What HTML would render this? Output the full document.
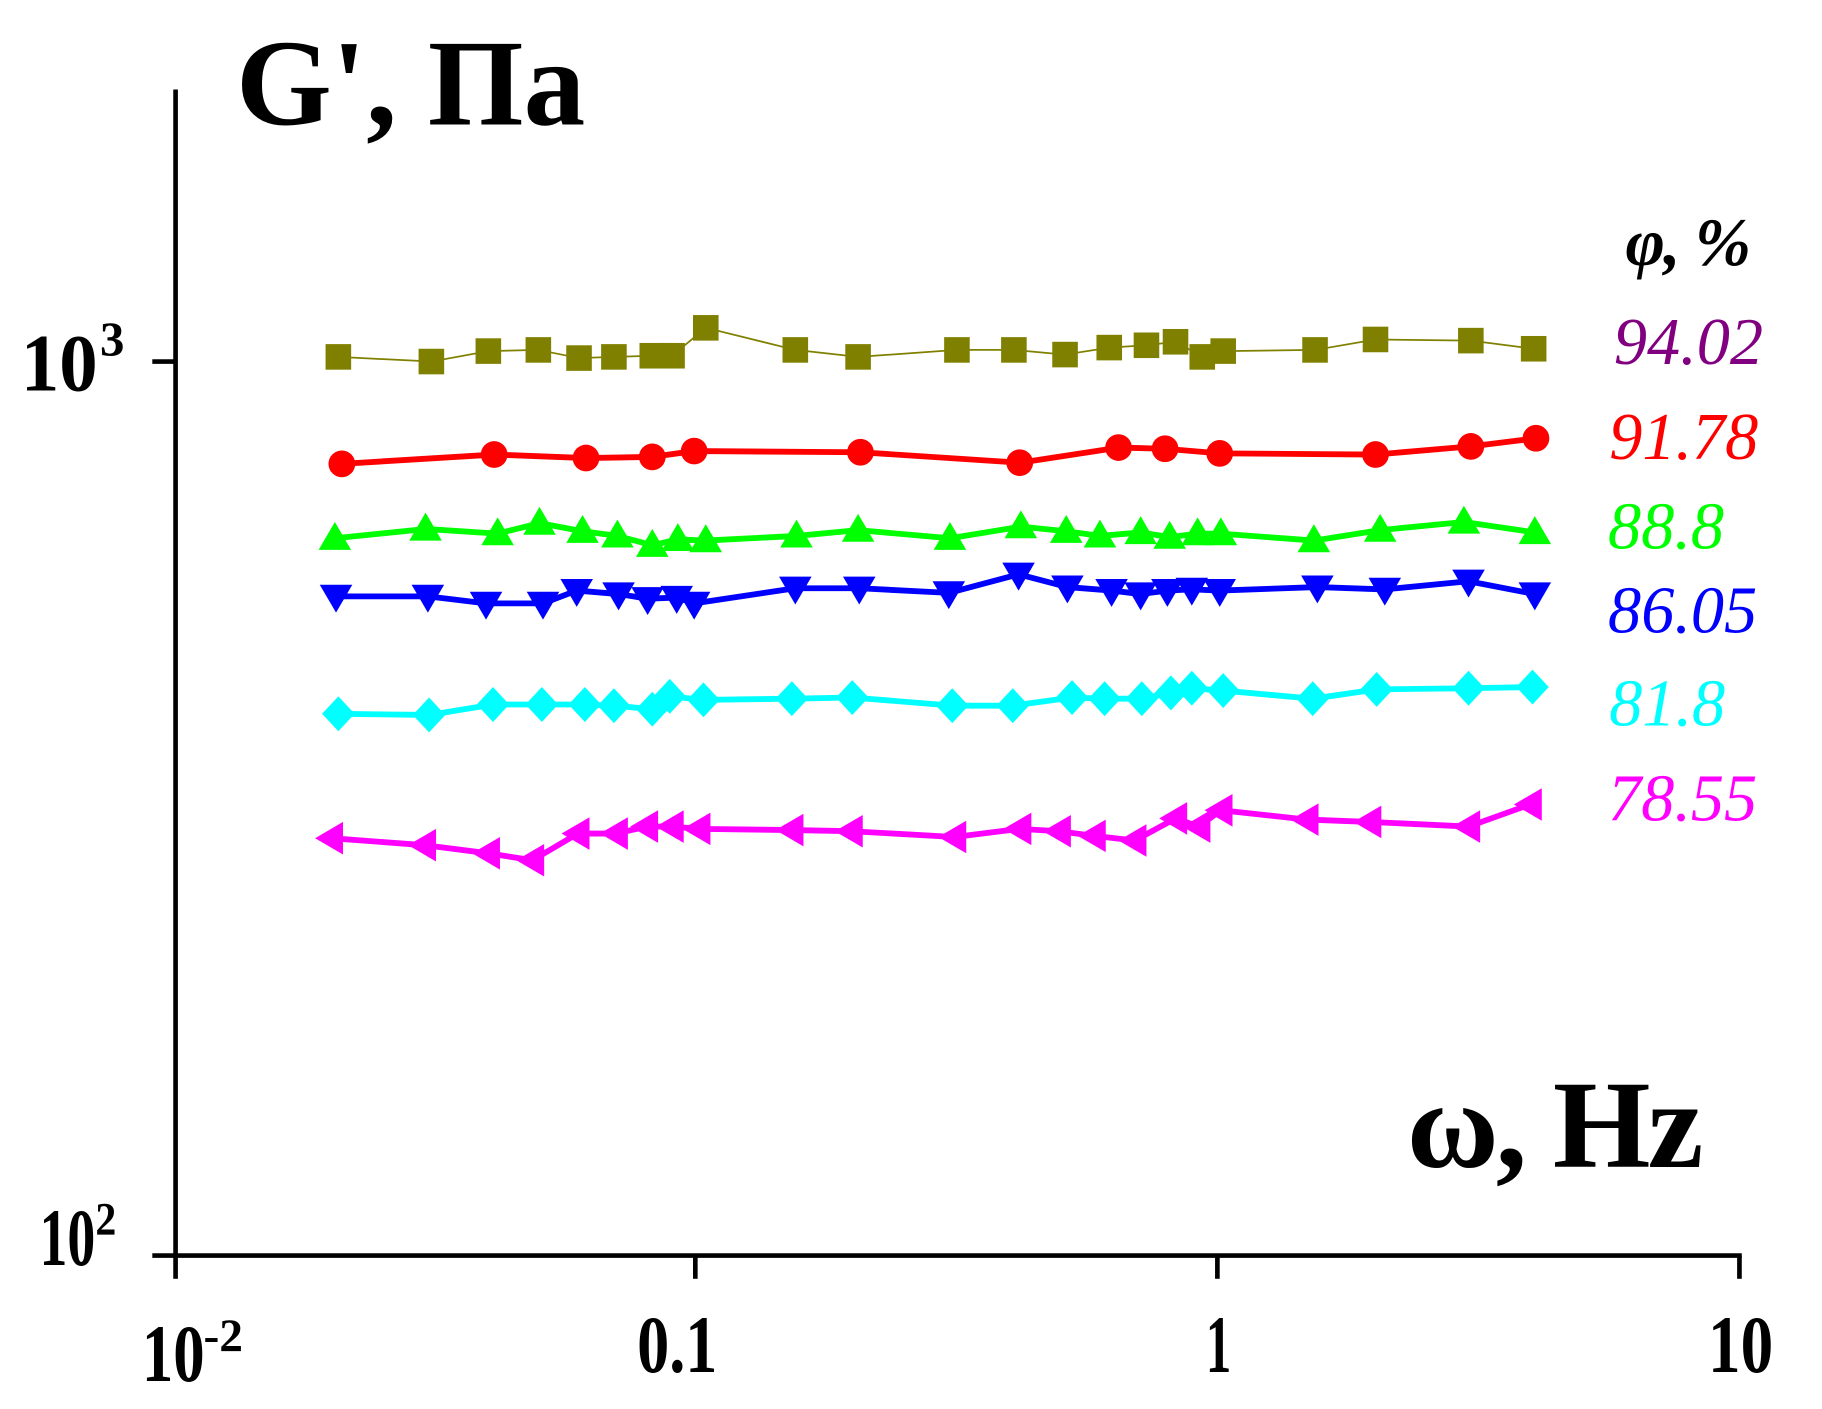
<!DOCTYPE html>
<html><head><meta charset="utf-8"><style>html,body{margin:0;padding:0;background:#fff}svg{display:block}</style></head>
<body>
<svg width="1822" height="1409" viewBox="0 0 1567 1212" preserveAspectRatio="none" xmlns="http://www.w3.org/2000/svg">
<defs>
<rect id="sq" x="-11" y="-11" width="22" height="22" fill="#808000"/>
<circle id="ci" r="11.5" fill="#ff0000"/>
<path id="tu" d="M0,-14 L14,10 L-14,10 Z" fill="#00ff00"/>
<path id="td" d="M0,14 L14,-10 L-14,-10 Z" fill="#0000ff"/>
<path id="di" d="M0,-15 L14,0 L0,15 L-14,0 Z" fill="#00ffff"/>
<path id="tl" d="M-14,0 L10,-14 L10,14 Z" fill="#ff00ff"/>
</defs>
<g stroke="#000" stroke-width="4" fill="none">
<line x1="151" y1="77" x2="151" y2="1082"/>
<line x1="131" y1="1080" x2="1498" y2="1080"/>
<line x1="131" y1="311" x2="151" y2="311"/>
<line x1="151" y1="1080" x2="151" y2="1100"/>
<line x1="598" y1="1080" x2="598" y2="1100"/>
<line x1="1047" y1="1080" x2="1047" y2="1100"/>
<line x1="1496" y1="1080" x2="1496" y2="1100"/>
</g>
<g font-family="Liberation Serif, serif" font-weight="bold" fill="#000">
<text x="203" y="107" font-size="106">G', Па</text>
<text x="1210" y="1004" font-size="108" textLength="255">ω, Hz</text>
<text x="18" y="336" font-size="70" textLength="66" lengthAdjust="spacingAndGlyphs">10</text>
<text x="86" y="306" font-size="42">3</text>
<text x="34" y="1088" font-size="70" textLength="48" lengthAdjust="spacingAndGlyphs">10</text>
<text x="82" y="1062" font-size="40" textLength="18" lengthAdjust="spacingAndGlyphs">2</text>
<text x="122" y="1188" font-size="70" textLength="54" lengthAdjust="spacingAndGlyphs">10</text>
<text x="175" y="1162" font-size="40" textLength="34" lengthAdjust="spacingAndGlyphs">-2</text>
<text x="548" y="1180" font-size="70" textLength="69" lengthAdjust="spacingAndGlyphs">0.1</text>
<text x="1037" y="1180" font-size="70" textLength="22" lengthAdjust="spacingAndGlyphs">1</text>
<text x="1469" y="1180" font-size="70" textLength="56" lengthAdjust="spacingAndGlyphs">10</text>
<text x="1398" y="228" font-size="58" font-style="italic" textLength="108">φ, %</text>
</g>
<g font-family="Liberation Serif, serif" font-style="italic" font-size="57">
<text x="1388" y="313" fill="#800080">94.02</text>
<text x="1384" y="395" fill="#ff0000">91.78</text>
<text x="1383" y="472" fill="#00ff00">88.8</text>
<text x="1383" y="544" fill="#0000ff">86.05</text>
<text x="1384" y="624" fill="#00ffff">81.8</text>
<text x="1383" y="706" fill="#ff00ff">78.55</text>
</g>
<g fill="none" stroke-linejoin="round">
<polyline stroke="#808000" stroke-width="1.5" points="291,307 371,311 420,302 463,301 498,308 528,307 561,306 578,306 607,282 684,301 738,307 823,301 872,301 916,305 954,299 986,297 1011,294 1034,307 1052,302 1131,301 1183,292 1265,293 1319,300"/>
<polyline stroke="#ff0000" stroke-width="5" points="294,399 425,391 504,394 561,393 597,388 740,389 877,398 962,385 1002,386 1049,390 1183,391 1265,384 1321,377"/>
<polyline stroke="#00ff00" stroke-width="5" points="288,463 366,455 428,459 464,450 501,457 531,461 561,469 583,464 607,465 685,461 738,456 817,463 878,453 917,457 946,461 981,458 1006,462 1030,459 1050,459 1130,465 1187,456 1259,449 1320,458"/>
<polyline stroke="#0000ff" stroke-width="5" points="289,513 368,513 418,519 467,519 496,508 532,511 557,515 582,514 597,519 684,506 739,506 816,510 876,494 918,505 956,508 981,511 1004,508 1025,507 1049,508 1133,505 1191,507 1263,500 1320,511"/>
<polyline stroke="#00ffff" stroke-width="5" points="291,614 369,615 424,606 466,606 503,606 528,607 561,610 576,599 605,602 681,601 733,600 819,607 871,607 922,600 950,601 982,601 1007,596 1025,592 1052,594 1129,601 1184,593 1263,592 1318,591"/>
<polyline stroke="#ff00ff" stroke-width="5" points="285,721 365,727 420,734 458,740 497,717 530,717 556,711 578,711 601,713 681,714 732,715 821,720 877,713 911,715 941,719 976,723 1011,704 1031,711 1050,697 1124,705 1178,707 1263,711 1316,692"/>
</g>
<g>
<use href="#sq" x="291" y="307"/><use href="#sq" x="371" y="311"/><use href="#sq" x="420" y="302"/><use href="#sq" x="463" y="301"/><use href="#sq" x="498" y="308"/><use href="#sq" x="528" y="307"/><use href="#sq" x="561" y="306"/><use href="#sq" x="578" y="306"/><use href="#sq" x="607" y="282"/><use href="#sq" x="684" y="301"/><use href="#sq" x="738" y="307"/><use href="#sq" x="823" y="301"/><use href="#sq" x="872" y="301"/><use href="#sq" x="916" y="305"/><use href="#sq" x="954" y="299"/><use href="#sq" x="986" y="297"/><use href="#sq" x="1011" y="294"/><use href="#sq" x="1034" y="307"/><use href="#sq" x="1052" y="302"/><use href="#sq" x="1131" y="301"/><use href="#sq" x="1183" y="292"/><use href="#sq" x="1265" y="293"/><use href="#sq" x="1319" y="300"/>
<use href="#ci" x="294" y="399"/><use href="#ci" x="425" y="391"/><use href="#ci" x="504" y="394"/><use href="#ci" x="561" y="393"/><use href="#ci" x="597" y="388"/><use href="#ci" x="740" y="389"/><use href="#ci" x="877" y="398"/><use href="#ci" x="962" y="385"/><use href="#ci" x="1002" y="386"/><use href="#ci" x="1049" y="390"/><use href="#ci" x="1183" y="391"/><use href="#ci" x="1265" y="384"/><use href="#ci" x="1321" y="377"/>
<use href="#tu" x="288" y="463"/><use href="#tu" x="366" y="455"/><use href="#tu" x="428" y="459"/><use href="#tu" x="464" y="450"/><use href="#tu" x="501" y="457"/><use href="#tu" x="531" y="461"/><use href="#tu" x="561" y="469"/><use href="#tu" x="583" y="464"/><use href="#tu" x="607" y="465"/><use href="#tu" x="685" y="461"/><use href="#tu" x="738" y="456"/><use href="#tu" x="817" y="463"/><use href="#tu" x="878" y="453"/><use href="#tu" x="917" y="457"/><use href="#tu" x="946" y="461"/><use href="#tu" x="981" y="458"/><use href="#tu" x="1006" y="462"/><use href="#tu" x="1030" y="459"/><use href="#tu" x="1050" y="459"/><use href="#tu" x="1130" y="465"/><use href="#tu" x="1187" y="456"/><use href="#tu" x="1259" y="449"/><use href="#tu" x="1320" y="458"/>
<use href="#td" x="289" y="513"/><use href="#td" x="368" y="513"/><use href="#td" x="418" y="519"/><use href="#td" x="467" y="519"/><use href="#td" x="496" y="508"/><use href="#td" x="532" y="511"/><use href="#td" x="557" y="515"/><use href="#td" x="582" y="514"/><use href="#td" x="597" y="519"/><use href="#td" x="684" y="506"/><use href="#td" x="739" y="506"/><use href="#td" x="816" y="510"/><use href="#td" x="876" y="494"/><use href="#td" x="918" y="505"/><use href="#td" x="956" y="508"/><use href="#td" x="981" y="511"/><use href="#td" x="1004" y="508"/><use href="#td" x="1025" y="507"/><use href="#td" x="1049" y="508"/><use href="#td" x="1133" y="505"/><use href="#td" x="1191" y="507"/><use href="#td" x="1263" y="500"/><use href="#td" x="1320" y="511"/>
<use href="#di" x="291" y="614"/><use href="#di" x="369" y="615"/><use href="#di" x="424" y="606"/><use href="#di" x="466" y="606"/><use href="#di" x="503" y="606"/><use href="#di" x="528" y="607"/><use href="#di" x="561" y="610"/><use href="#di" x="576" y="599"/><use href="#di" x="605" y="602"/><use href="#di" x="681" y="601"/><use href="#di" x="733" y="600"/><use href="#di" x="819" y="607"/><use href="#di" x="871" y="607"/><use href="#di" x="922" y="600"/><use href="#di" x="950" y="601"/><use href="#di" x="982" y="601"/><use href="#di" x="1007" y="596"/><use href="#di" x="1025" y="592"/><use href="#di" x="1052" y="594"/><use href="#di" x="1129" y="601"/><use href="#di" x="1184" y="593"/><use href="#di" x="1263" y="592"/><use href="#di" x="1318" y="591"/>
<use href="#tl" x="285" y="721"/><use href="#tl" x="365" y="727"/><use href="#tl" x="420" y="734"/><use href="#tl" x="458" y="740"/><use href="#tl" x="497" y="717"/><use href="#tl" x="530" y="717"/><use href="#tl" x="556" y="711"/><use href="#tl" x="578" y="711"/><use href="#tl" x="601" y="713"/><use href="#tl" x="681" y="714"/><use href="#tl" x="732" y="715"/><use href="#tl" x="821" y="720"/><use href="#tl" x="877" y="713"/><use href="#tl" x="911" y="715"/><use href="#tl" x="941" y="719"/><use href="#tl" x="976" y="723"/><use href="#tl" x="1011" y="704"/><use href="#tl" x="1031" y="711"/><use href="#tl" x="1050" y="697"/><use href="#tl" x="1124" y="705"/><use href="#tl" x="1178" y="707"/><use href="#tl" x="1263" y="711"/><use href="#tl" x="1316" y="692"/>
</g>
</svg>
</body></html>
